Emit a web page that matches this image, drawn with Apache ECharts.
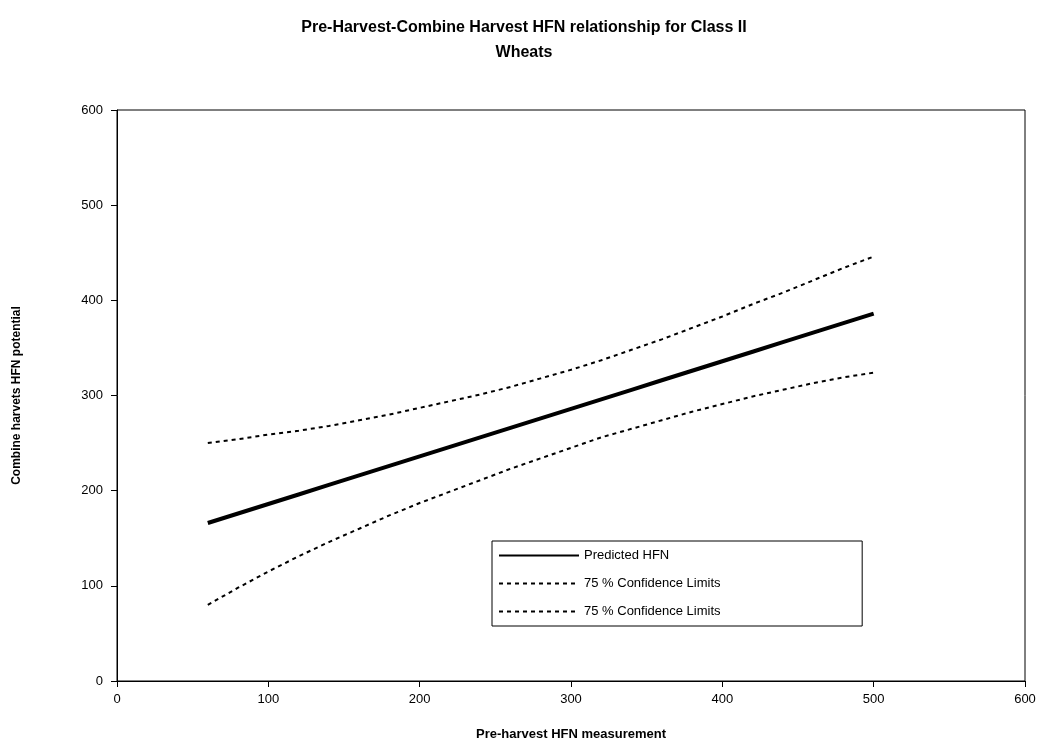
<!DOCTYPE html>
<html><head><meta charset="utf-8">
<script src="https://cdn.jsdelivr.net/npm/echarts@6/dist/echarts.min.js"></script>
<style>html,body{margin:0;padding:0;background:#fff}#c{width:1048px;height:744px}</style>
</head><body><div id="c"></div>
<script>
const xValues = [60, 80, 100, 120, 140, 160, 180, 200, 220, 240, 260, 280, 300, 320, 340, 360, 380, 400, 420, 440, 460, 480, 500];
const predicted = [166, 176, 186, 196, 206, 216, 226, 236, 246, 256, 266, 276, 286, 296, 306, 316, 326, 336, 346, 356, 366, 376, 386];
const upperLimit = [250, 254, 259, 263, 268, 274, 280, 287, 294, 301, 309, 318, 327, 337, 348, 359, 371, 383, 396, 408, 421, 434, 446];
const lowerLimit = [80, 98, 115, 131, 146, 160, 174, 187, 199, 211, 223, 234, 245, 256, 265, 274, 283, 291, 299, 306, 313, 319, 324];
const xTicks = [0, 100, 200, 300, 400, 500, 600];
const yTicks = [0, 100, 200, 300, 400, 500, 600];

const pairs = arr => xValues.map((x, i) => [x, arr[i]]);
const font = '"Liberation Sans", Arial, sans-serif';
const chart = echarts.init(document.getElementById('c'), null, {renderer: 'canvas'});
chart.setOption({
  animation: false,
  backgroundColor: '#fff',
  title: {
    text: 'Pre-Harvest-Combine Harvest HFN relationship for Class II\nWheats',
    left: 'center', top: 10,
    textStyle: {fontFamily: font, fontSize: 16, fontWeight: 'bold', color: '#000', lineHeight: 25}
  },
  grid: {left: 117, right: 23, top: 110, bottom: 63, outerBoundsMode: 'none', containLabel: false,
         show: true, borderColor: '#000', borderWidth: 1, backgroundColor: 'transparent'},
  xAxis: {
    type: 'value', min: xTicks[0], max: xTicks[xTicks.length - 1], interval: 100,
    name: 'Pre-harvest HFN measurement', nameLocation: 'middle', nameGap: 47,
    nameTextStyle: {fontFamily: font, fontSize: 13, fontWeight: 'bold', color: '#000'},
    axisLine: {lineStyle: {color: '#000', width: 1}},
    axisTick: {show: true, length: 6, lineStyle: {color: '#000'}},
    axisLabel: {fontFamily: font, fontSize: 13, color: '#000', margin: 12},
    splitLine: {show: false}
  },
  yAxis: {
    type: 'value', min: yTicks[0], max: yTicks[yTicks.length - 1], interval: 100,
    name: 'Combine harvets HFN potential', nameLocation: 'middle', nameGap: 94,
    nameTextStyle: {fontFamily: font, fontSize: 12, fontWeight: 'bold', color: '#000'},
    axisLine: {show: true, lineStyle: {color: '#000', width: 1}},
    axisTick: {show: true, length: 6, lineStyle: {color: '#000'}},
    axisLabel: {fontFamily: font, fontSize: 13, color: '#000', margin: 14},
    splitLine: {show: false}
  },
  legend: {
    left: 492, top: 541, orient: 'vertical',
    backgroundColor: '#fff', borderColor: '#000', borderWidth: 1,
    padding: [8, 138, 8, 6], itemGap: 15, itemWidth: 80, itemHeight: 14,
    itemStyle: {opacity: 0},
    textStyle: {fontFamily: font, fontSize: 13, color: '#000'},
    data: ['Predicted HFN', {name: '75 % Confidence Limits'}, {name: '75 % Confidence Limits '}]
  },
  series: [
    {name: 'Predicted HFN', type: 'line', data: pairs(predicted), showSymbol: false, symbol: 'none',
     lineStyle: {color: '#000', width: 4}, itemStyle: {color: '#000'}},
    {name: '75 % Confidence Limits', type: 'line', data: pairs(upperLimit), showSymbol: false, symbol: 'none',
     lineStyle: {color: '#000', width: 2, type: [4, 4]}, itemStyle: {color: '#000'}},
    {name: '75 % Confidence Limits ', type: 'line', data: pairs(lowerLimit), showSymbol: false, symbol: 'none',
     lineStyle: {color: '#000', width: 2, type: [4, 4]}, itemStyle: {color: '#000'}}
  ]
});
</script></body></html>
